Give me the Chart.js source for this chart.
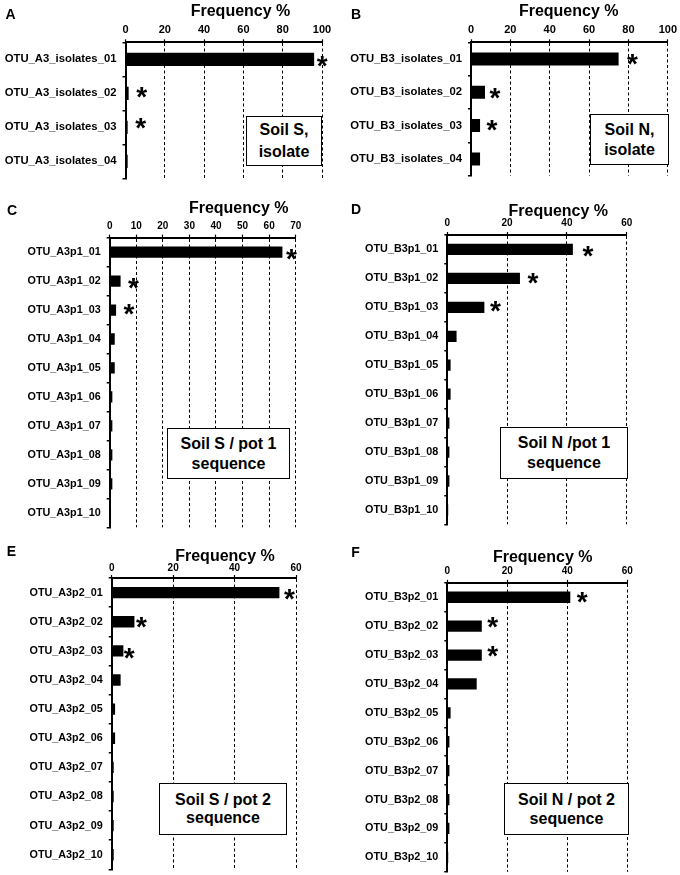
<!DOCTYPE html>
<html><head><meta charset="utf-8">
<script src="https://cdn.jsdelivr.net/npm/chart.js@4/dist/chart.umd.min.js"></script>
<style>
html,body{margin:0;padding:0;background:#fff;overflow:hidden;}
#wrap{position:relative;width:680px;height:875px;overflow:hidden;font-family:'Liberation Sans',Arial,sans-serif;font-weight:bold;color:#000;}
canvas{position:absolute;}
.lt{position:absolute;font-size:14px;line-height:1;transform:translate(-50%,-50%);white-space:nowrap;}
.tt{position:absolute;font-size:16px;line-height:1;white-space:nowrap;transform:translate(-50%,-50%);}
.bx{position:absolute;border:1.5px solid #000;background:#fff;box-sizing:border-box;display:flex;flex-direction:column;justify-content:center;align-items:center;font-size:16px;text-align:center;white-space:nowrap;}
</style></head><body><div id="wrap"></div>
<script>
// ---------- DATA ----------
const catsA = ['OTU_A3_isolates_01','OTU_A3_isolates_02','OTU_A3_isolates_03','OTU_A3_isolates_04'];
const valsA = [96, 1.6, 1.1, 1.1];
const sigA  = [1, 1, 1, 0];
const ticksA = [0, 20, 40, 60, 80, 100];

const catsB = ['OTU_B3_isolates_01','OTU_B3_isolates_02','OTU_B3_isolates_03','OTU_B3_isolates_04'];
const valsB = [75, 7.1, 4.6, 4.6];
const sigB  = [1, 1, 1, 0];
const ticksB = [0, 20, 40, 60, 80, 100];

const catsC = ['OTU_A3p1_01','OTU_A3p1_02','OTU_A3p1_03','OTU_A3p1_04','OTU_A3p1_05','OTU_A3p1_06','OTU_A3p1_07','OTU_A3p1_08','OTU_A3p1_09','OTU_A3p1_10'];
const valsC = [65, 4.1, 2.4, 1.9, 1.9, 1.0, 1.0, 1.0, 1.0, 0.5];
const sigC  = [1, 1, 1, 0, 0, 0, 0, 0, 0, 0];
const ticksC = [0, 10, 20, 30, 40, 50, 60, 70];

const catsD = ['OTU_B3p1_01','OTU_B3p1_02','OTU_B3p1_03','OTU_B3p1_04','OTU_B3p1_05','OTU_B3p1_06','OTU_B3p1_07','OTU_B3p1_08','OTU_B3p1_09','OTU_B3p1_10'];
const valsD = [42, 24.3, 12.4, 3.1, 1.1, 1.1, 0.7, 0.7, 0.7, 0.3];
const sigD  = [1, 1, 1, 0, 0, 0, 0, 0, 0, 0];
const ticksD = [0, 20, 40, 60];

const catsE = ['OTU_A3p2_01','OTU_A3p2_02','OTU_A3p2_03','OTU_A3p2_04','OTU_A3p2_05','OTU_A3p2_06','OTU_A3p2_07','OTU_A3p2_08','OTU_A3p2_09','OTU_A3p2_10'];
const valsE = [54.6, 7.4, 3.8, 2.9, 1.1, 1.1, 0.65, 0.65, 0.65, 0.65];
const sigE  = [1, 1, 1, 0, 0, 0, 0, 0, 0, 0];
const ticksE = [0, 20, 40, 60];

const catsF = ['OTU_B3p2_01','OTU_B3p2_02','OTU_B3p2_03','OTU_B3p2_04','OTU_B3p2_05','OTU_B3p2_06','OTU_B3p2_07','OTU_B3p2_08','OTU_B3p2_09','OTU_B3p2_10'];
const valsF = [41, 11.5, 11.5, 9.8, 1.1, 0.7, 0.7, 0.7, 0.7, 0.3];
const sigF  = [1, 1, 1, 0, 0, 0, 0, 0, 0, 0];
const ticksF = [0, 20, 40, 60];

const axisTitle = 'Frequency %';

// ---------- LAYOUT / STYLE ----------
const panels = [
  {letter:'A', cats:catsA, vals:valsA, sig:sigA, ticks:ticksA,
   cv:{l:0,t:0,w:340,h:200}, area:{l:125.5,r:322,t:42.3,b:178.3},
   tickFont:11, catFont:11.3, tickPad:3,
   letterPos:[10.5,14], titlePos:[240.5,10.5],
   box:{l:246,t:116,w:76,h:50,lh:22,lines:['Soil S,','isolate']},
   star:[[8,2.4],[13,-0.6],[13,-4]]},
  {letter:'B', cats:catsB, vals:valsB, sig:sigB, ticks:ticksB,
   cv:{l:340,t:0,w:340,h:200}, area:{l:471,r:668.3,t:42.3,b:175.6},
   tickFont:11, catFont:11.3, tickPad:3,
   letterPos:[356,14], titlePos:[568.7,10.5],
   box:{l:590,t:114,w:79,h:51,lh:20,lines:['Soil N,','isolate']},
   star:[[14,1],[10,1.7],[12,-0.6]]},
  {letter:'C', cats:catsC, vals:valsC, sig:sigC, ticks:ticksC,
   cv:{l:0,t:195,w:340,h:360}, area:{l:109.7,r:295.7,t:237.6,b:527.3},
   tickFont:10, catFont:10.8, tickPad:2,
   letterPos:[12,209.5], titlePos:[238.7,207.5],
   box:{l:167,t:428,w:123,h:51,lh:19.5,lines:['Soil S / pot 1','sequence']},
   star:[[9,2.8],[13,2.1],[13,-0.9]]},
  {letter:'D', cats:catsD, vals:valsD, sig:sigD, ticks:ticksD,
   cv:{l:340,t:195,w:340,h:360}, area:{l:447.3,r:626.7,t:235,b:524.4},
   tickFont:10, catFont:10.8, tickPad:2.7,
   letterPos:[356,209], titlePos:[558.3,210.8],
   box:{l:500,t:427,w:128,h:52,lh:20,lines:['Soil N /pot 1','sequence']},
   star:[[15,2.2],[13,0],[11,-1.3]]},
  {letter:'E', cats:catsE, vals:valsE, sig:sigE, ticks:ticksE,
   cv:{l:0,t:535,w:340,h:370}, area:{l:111.7,r:296,t:578,b:869.3},
   tickFont:10, catFont:10.8, tickPad:1,
   letterPos:[11.5,551], titlePos:[225,555.8],
   box:{l:159,t:783,w:128,h:52,lh:18.5,lines:['Soil S / pot 2','sequence']},
   star:[[10,2],[7,1.3],[6,2.3]]},
  {letter:'F', cats:catsF, vals:valsF, sig:sigF, ticks:ticksF,
   cv:{l:340,t:535,w:340,h:370}, area:{l:447.3,r:627.3,t:582.8,b:871.8},
   tickFont:10, catFont:10.8, tickPad:2.3,
   letterPos:[355.5,552], titlePos:[542.7,557],
   box:{l:504,t:783,w:125,h:52,lh:19,lines:['Soil N / pot 2','sequence']},
   star:[[12,0],[11,-4],[11,-4]]}
];

const FONT = "'Liberation Sans', Arial, sans-serif";
const wrap = document.getElementById('wrap');

const starPlugin = {
  id: 'stars',
  afterDatasetsDraw(chart, args, opts) {
    const p = opts.panel;
    const meta = chart.getDatasetMeta(0);
    const ctx = chart.ctx;
    ctx.save();
    ctx.fillStyle = '#000';
    ctx.font = 'bold 28px ' + FONT;
    ctx.textAlign = 'left';
    ctx.textBaseline = 'alphabetic';
    const m = ctx.measureText('*');
    let k = 0;
    p.sig.forEach((s, i) => {
      if (!s) return;
      const bar = meta.data[i];
      const off = p.star[k++] || [11, 0];
      const cx = bar.x + off[0];
      const cy = bar.y + off[1];
      const x = cx - (m.actualBoundingBoxRight - m.actualBoundingBoxLeft) / 2;
      const y = cy + (m.actualBoundingBoxAscent - m.actualBoundingBoxDescent) / 2;
      ctx.fillText('*', x, y);
    });
    ctx.restore();
  }
};

panels.forEach(p => {
  const c = document.createElement('canvas');
  c.width = p.cv.w; c.height = p.cv.h;
  c.style.left = p.cv.l + 'px'; c.style.top = p.cv.t + 'px';
  c.style.width = p.cv.w + 'px'; c.style.height = p.cv.h + 'px';
  wrap.appendChild(c);
  const maxV = p.ticks[p.ticks.length - 1];
  new Chart(c, {
    type: 'bar',
    data: {
      labels: p.cats,
      datasets: [{data: p.vals, backgroundColor: '#000', borderWidth: 0,
                  barPercentage: 0.39, categoryPercentage: 1}]
    },
    options: {
      indexAxis: 'y',
      responsive: false,
      animation: false,
      layout: {padding: {left: 0, top: 0,
        right: (p.cv.l + p.cv.w) - p.area.r,
        bottom: (p.cv.t + p.cv.h) - p.area.b}},
      plugins: {legend: {display: false}, tooltip: {enabled: false}, title: {display: false},
                stars: {panel: p}},
      scales: {
        x: {
          type: 'linear', position: 'top', min: 0, max: maxV,
          afterBuildTicks: s => { s.ticks = p.ticks.map(v => ({value: v})); },
          afterFit: s => { s.height = p.area.t - p.cv.t; },
          grid: {color: '#000', lineWidth: 1, drawTicks: true, tickLength: 3, tickColor: '#000', tickWidth: 1.2},
          border: {display: true, color: '#000', width: 2, dash: [3, 2.5]},
          ticks: {color: '#000', padding: p.tickPad, maxRotation: 0, autoSkip: false,
                  font: {family: FONT, weight: 'bold', size: p.tickFont}}
        },
        y: {
          type: 'category', offset: true,
          afterFit: s => { s.width = p.area.l - p.cv.l; },
          grid: {display: true, offset: true, drawOnChartArea: false, drawTicks: true, tickLength: 3,
                 color: '#000', tickColor: '#000', lineWidth: 1.5},
          border: {display: true, color: '#000', width: 2},
          ticks: {color: '#000', padding: 6, autoSkip: false,
                  font: {family: FONT, weight: 'bold', size: p.catFont}}
        }
      }
    },
    plugins: [starPlugin]
  });

  const L = document.createElement('div');
  L.className = 'lt'; L.textContent = p.letter;
  L.style.left = p.letterPos[0] + 'px'; L.style.top = p.letterPos[1] + 'px';
  wrap.appendChild(L);

  const T = document.createElement('div');
  T.className = 'tt'; T.textContent = axisTitle;
  T.style.left = p.titlePos[0] + 'px'; T.style.top = p.titlePos[1] + 'px';
  wrap.appendChild(T);

  const B = document.createElement('div');
  B.className = 'bx';
  B.style.left = p.box.l + 'px'; B.style.top = p.box.t + 'px';
  B.style.width = p.box.w + 'px'; B.style.height = p.box.h + 'px';
  B.style.lineHeight = p.box.lh + 'px';
  p.box.lines.forEach(t => { const d = document.createElement('div'); d.textContent = t; B.appendChild(d); });
  wrap.appendChild(B);
});
</script>
</body></html>
